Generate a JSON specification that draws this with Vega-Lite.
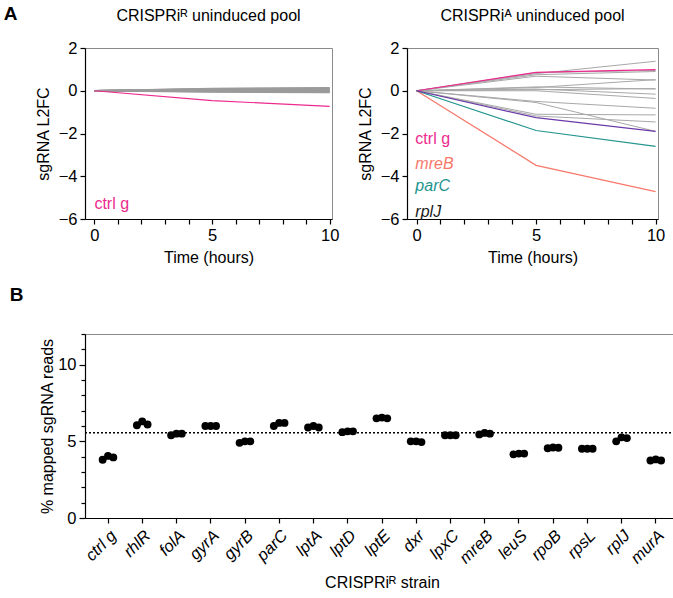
{
  "$schema": "https://vega.github.io/schema/vega-lite/v6.json",
  "padding": {"left": 3, "top": 4, "right": 2, "bottom": 4},
  "config": {
    "font": "Liberation Sans",
    "view": {"stroke": "#8a8a8a", "strokeWidth": 1},
    "axis": {"domainColor": "#000", "domainWidth": 1.2, "tickColor": "#000", "tickWidth": 1.2, "tickSize": 5, "labelFontSize": 16.5, "labelColor": "#000", "labelFont": "Liberation Sans", "titleFont": "Liberation Sans", "titleFontSize": 16, "titleFontWeight": "normal", "titleColor": "#000", "grid": false, "labelPadding": 3, "labelOverlap": false, "labelBound": false, "labelFlush": false},
    "title": {"fontSize": 16, "fontWeight": "normal", "font": "Liberation Sans", "color": "#000"}
  },
  "datasets": {
    "poolR": [
      {"gene": "ctrl g", "t": 0, "v": 0}, {"gene": "ctrl g", "t": 5, "v": -0.46}, {"gene": "ctrl g", "t": 10, "v": -0.73},
      {"gene": "rhlR", "t": 0, "v": 0}, {"gene": "rhlR", "t": 5, "v": -0.06}, {"gene": "rhlR", "t": 10, "v": -0.08},
      {"gene": "folA", "t": 0, "v": 0}, {"gene": "folA", "t": 5, "v": -0.04}, {"gene": "folA", "t": 10, "v": -0.06},
      {"gene": "gyrA", "t": 0, "v": 0}, {"gene": "gyrA", "t": 5, "v": -0.03}, {"gene": "gyrA", "t": 10, "v": -0.04},
      {"gene": "gyrB", "t": 0, "v": 0}, {"gene": "gyrB", "t": 5, "v": -0.02}, {"gene": "gyrB", "t": 10, "v": -0.02},
      {"gene": "parC", "t": 0, "v": 0}, {"gene": "parC", "t": 5, "v": -0.01}, {"gene": "parC", "t": 10, "v": 0.0},
      {"gene": "lptA", "t": 0, "v": 0}, {"gene": "lptA", "t": 5, "v": 0.0}, {"gene": "lptA", "t": 10, "v": 0.01},
      {"gene": "lptD", "t": 0, "v": 0}, {"gene": "lptD", "t": 5, "v": 0.01}, {"gene": "lptD", "t": 10, "v": 0.02},
      {"gene": "lptE", "t": 0, "v": 0}, {"gene": "lptE", "t": 5, "v": 0.02}, {"gene": "lptE", "t": 10, "v": 0.04},
      {"gene": "dxr", "t": 0, "v": 0}, {"gene": "dxr", "t": 5, "v": 0.03}, {"gene": "dxr", "t": 10, "v": 0.05},
      {"gene": "lpxC", "t": 0, "v": 0}, {"gene": "lpxC", "t": 5, "v": 0.04}, {"gene": "lpxC", "t": 10, "v": 0.06},
      {"gene": "mreB", "t": 0, "v": 0}, {"gene": "mreB", "t": 5, "v": 0.05}, {"gene": "mreB", "t": 10, "v": 0.08},
      {"gene": "leuS", "t": 0, "v": 0}, {"gene": "leuS", "t": 5, "v": 0.06}, {"gene": "leuS", "t": 10, "v": 0.09},
      {"gene": "rpoB", "t": 0, "v": 0}, {"gene": "rpoB", "t": 5, "v": 0.07}, {"gene": "rpoB", "t": 10, "v": 0.1},
      {"gene": "rpsL", "t": 0, "v": 0}, {"gene": "rpsL", "t": 5, "v": 0.08}, {"gene": "rpsL", "t": 10, "v": 0.11},
      {"gene": "rplJ", "t": 0, "v": 0}, {"gene": "rplJ", "t": 5, "v": 0.09}, {"gene": "rplJ", "t": 10, "v": 0.12},
      {"gene": "murA", "t": 0, "v": 0}, {"gene": "murA", "t": 5, "v": 0.1}, {"gene": "murA", "t": 10, "v": 0.14}
    ],
    "poolA": [
      {"gene": "rhlR", "t": 0, "v": 0}, {"gene": "rhlR", "t": 5, "v": 0.8}, {"gene": "rhlR", "t": 10, "v": 1.38},
      {"gene": "folA", "t": 0, "v": 0}, {"gene": "folA", "t": 5, "v": 0.75}, {"gene": "folA", "t": 10, "v": 0.9},
      {"gene": "gyrA", "t": 0, "v": 0}, {"gene": "gyrA", "t": 5, "v": 0.68}, {"gene": "gyrA", "t": 10, "v": 0.5},
      {"gene": "gyrB", "t": 0, "v": 0}, {"gene": "gyrB", "t": 5, "v": 0.15}, {"gene": "gyrB", "t": 10, "v": 0.52},
      {"gene": "lptA", "t": 0, "v": 0}, {"gene": "lptA", "t": 5, "v": 0.18}, {"gene": "lptA", "t": 10, "v": 0.08},
      {"gene": "lptD", "t": 0, "v": 0}, {"gene": "lptD", "t": 5, "v": 0.08}, {"gene": "lptD", "t": 10, "v": -0.16},
      {"gene": "lptE", "t": 0, "v": 0}, {"gene": "lptE", "t": 5, "v": 0.0}, {"gene": "lptE", "t": 10, "v": -0.36},
      {"gene": "dxr", "t": 0, "v": 0}, {"gene": "dxr", "t": 5, "v": -0.5}, {"gene": "dxr", "t": 10, "v": -0.82},
      {"gene": "lpxC", "t": 0, "v": 0}, {"gene": "lpxC", "t": 5, "v": -0.55}, {"gene": "lpxC", "t": 10, "v": -1.9},
      {"gene": "leuS", "t": 0, "v": 0}, {"gene": "leuS", "t": 5, "v": -1.1}, {"gene": "leuS", "t": 10, "v": -1.13},
      {"gene": "rpoB", "t": 0, "v": 0}, {"gene": "rpoB", "t": 5, "v": -1.18}, {"gene": "rpoB", "t": 10, "v": -1.46},
      {"gene": "rpsL", "t": 0, "v": 0}, {"gene": "rpsL", "t": 5, "v": 0.85}, {"gene": "rpsL", "t": 10, "v": 0.95},
      {"gene": "murA", "t": 0, "v": 0}, {"gene": "murA", "t": 5, "v": 0.05}, {"gene": "murA", "t": 10, "v": 0.1},
      {"gene": "ctrl g", "t": 0, "v": 0}, {"gene": "ctrl g", "t": 5, "v": 0.86}, {"gene": "ctrl g", "t": 10, "v": 0.99},
      {"gene": "mreB", "t": 0, "v": 0}, {"gene": "mreB", "t": 5, "v": -3.49}, {"gene": "mreB", "t": 10, "v": -4.72},
      {"gene": "parC", "t": 0, "v": 0}, {"gene": "parC", "t": 5, "v": -1.86}, {"gene": "parC", "t": 10, "v": -2.6},
      {"gene": "rplJ", "t": 0, "v": 0}, {"gene": "rplJ", "t": 5, "v": -1.26}, {"gene": "rplJ", "t": 10, "v": -1.9}
    ],
    "reads": [
      {"strain": "ctrl g", "rep": 1, "pct": 3.8}, {"strain": "ctrl g", "rep": 2, "pct": 4.05}, {"strain": "ctrl g", "rep": 3, "pct": 3.95},
      {"strain": "rhlR", "rep": 1, "pct": 6.05}, {"strain": "rhlR", "rep": 2, "pct": 6.3}, {"strain": "rhlR", "rep": 3, "pct": 6.1},
      {"strain": "folA", "rep": 1, "pct": 5.4}, {"strain": "folA", "rep": 2, "pct": 5.5}, {"strain": "folA", "rep": 3, "pct": 5.5},
      {"strain": "gyrA", "rep": 1, "pct": 6.0}, {"strain": "gyrA", "rep": 2, "pct": 6.0}, {"strain": "gyrA", "rep": 3, "pct": 6.0},
      {"strain": "gyrB", "rep": 1, "pct": 4.9}, {"strain": "gyrB", "rep": 2, "pct": 5.0}, {"strain": "gyrB", "rep": 3, "pct": 5.0},
      {"strain": "parC", "rep": 1, "pct": 6.0}, {"strain": "parC", "rep": 2, "pct": 6.2}, {"strain": "parC", "rep": 3, "pct": 6.2},
      {"strain": "lptA", "rep": 1, "pct": 5.9}, {"strain": "lptA", "rep": 2, "pct": 6.0}, {"strain": "lptA", "rep": 3, "pct": 5.9},
      {"strain": "lptD", "rep": 1, "pct": 5.6}, {"strain": "lptD", "rep": 2, "pct": 5.65}, {"strain": "lptD", "rep": 3, "pct": 5.65},
      {"strain": "lptE", "rep": 1, "pct": 6.5}, {"strain": "lptE", "rep": 2, "pct": 6.55}, {"strain": "lptE", "rep": 3, "pct": 6.5},
      {"strain": "dxr", "rep": 1, "pct": 5.0}, {"strain": "dxr", "rep": 2, "pct": 5.0}, {"strain": "dxr", "rep": 3, "pct": 4.95},
      {"strain": "lpxC", "rep": 1, "pct": 5.4}, {"strain": "lpxC", "rep": 2, "pct": 5.4}, {"strain": "lpxC", "rep": 3, "pct": 5.4},
      {"strain": "mreB", "rep": 1, "pct": 5.45}, {"strain": "mreB", "rep": 2, "pct": 5.55}, {"strain": "mreB", "rep": 3, "pct": 5.5},
      {"strain": "leuS", "rep": 1, "pct": 4.15}, {"strain": "leuS", "rep": 2, "pct": 4.2}, {"strain": "leuS", "rep": 3, "pct": 4.2},
      {"strain": "rpoB", "rep": 1, "pct": 4.55}, {"strain": "rpoB", "rep": 2, "pct": 4.6}, {"strain": "rpoB", "rep": 3, "pct": 4.58},
      {"strain": "rpsL", "rep": 1, "pct": 4.52}, {"strain": "rpsL", "rep": 2, "pct": 4.52}, {"strain": "rpsL", "rep": 3, "pct": 4.52},
      {"strain": "rplJ", "rep": 1, "pct": 5.0}, {"strain": "rplJ", "rep": 2, "pct": 5.26}, {"strain": "rplJ", "rep": 3, "pct": 5.21},
      {"strain": "murA", "rep": 1, "pct": 3.75}, {"strain": "murA", "rep": 2, "pct": 3.82}, {"strain": "murA", "rep": 3, "pct": 3.75}
    ]
  },
  "spacing": 19,
  "align": "none",
  "vconcat": [
    {
      "title": {"text": "A", "anchor": "start", "frame": "bounds", "fontSize": 19, "fontWeight": "bold", "offset": -16, "dx": -31},
      "spacing": 16,
      "hconcat": [
        {
          "width": 247, "height": 171,
          "title": {"text": "CRISPRiᴿ uninduced pool", "frame": "group", "offset": 16},
          "data": {"name": "poolR"},
          "resolve": {"axis": {"x": "independent"}},
          "layer": [
            {
              "transform": [{"filter": "datum.gene !== 'ctrl g'"}],
              "mark": {"type": "line", "color": "#9b9b9b", "strokeWidth": 1.5},
              "encoding": {
                "x": {"field": "t", "type": "quantitative", "scale": {"domain": [-0.4, 10.1], "nice": false, "zero": false},
                      "axis": {"orient": "bottom", "values": [0, 5, 10], "title": "Time (hours)", "titlePadding": 6}},
                "y": {"field": "v", "type": "quantitative", "scale": {"domain": [-6, 2], "nice": false},
                      "axis": {"values": [-6,-4,-2,0,2], "title": "sgRNA L2FC", "titlePadding": 7}},
                "detail": {"field": "gene"}
              }
            },
            {
              "transform": [{"filter": "datum.gene === 'ctrl g'"}],
              "mark": {"type": "line", "color": "#EC2A8E", "strokeWidth": 1.2},
              "encoding": {
                "x": {"field": "t", "type": "quantitative",
                      "axis": {"orient": "bottom", "values": [1,2,3,4,6,7,8,9], "labels": false, "domain": false, "title": null}},
                "y": {"field": "v", "type": "quantitative"}
              }
            },
            {
              "transform": [{"filter": "datum.gene === 'ctrl g' && datum.t === 0"}],
              "mark": {"type": "text", "align": "left", "baseline": "middle", "color": "#EC2A8E", "fontSize": 16},
              "encoding": {"x": {"datum": 0, "axis": null}, "y": {"datum": -5.3}, "text": {"field": "gene"}}
            }
          ]
        },
        {
          "width": 251, "height": 171,
          "title": {"text": "CRISPRiᴬ uninduced pool", "frame": "group", "offset": 16},
          "data": {"name": "poolA"},
          "resolve": {"axis": {"x": "independent"}},
          "layer": [
            {
              "transform": [{"filter": "indexof(['ctrl g','mreB','parC','rplJ'], datum.gene) < 0"}],
              "mark": {"type": "line", "color": "#a8a8a8", "strokeWidth": 1},
              "encoding": {
                "x": {"field": "t", "type": "quantitative", "scale": {"domain": [-0.4, 10.1], "nice": false, "zero": false},
                      "axis": {"orient": "bottom", "values": [0, 5, 10], "title": "Time (hours)", "titlePadding": 6}},
                "y": {"field": "v", "type": "quantitative", "scale": {"domain": [-6, 2], "nice": false},
                      "axis": {"values": [-6,-4,-2,0,2], "title": "sgRNA L2FC", "titlePadding": 7}},
                "detail": {"field": "gene"}
              }
            },
            {
              "transform": [{"filter": "indexof(['ctrl g','mreB','parC','rplJ'], datum.gene) >= 0"}],
              "mark": {"type": "line", "strokeWidth": 1.2},
              "encoding": {
                "x": {"field": "t", "type": "quantitative",
                      "axis": {"orient": "bottom", "values": [1,2,3,4,6,7,8,9], "labels": false, "domain": false, "title": null}},
                "y": {"field": "v", "type": "quantitative"},
                "color": {"field": "gene", "type": "nominal", "legend": null,
                          "scale": {"domain": ["ctrl g", "mreB", "parC", "rplJ"], "range": ["#EC2A8E", "#F7786B", "#23958F", "#6B3AA8"]}}
              }
            },
            {
              "transform": [{"filter": "datum.gene === 'ctrl g' && datum.t === 0"}],
              "mark": {"type": "text", "align": "left", "baseline": "middle", "color": "#EC2A8E", "fontSize": 16},
              "encoding": {"x": {"datum": -0.05, "axis": null}, "y": {"datum": -2.27}, "text": {"field": "gene"}}
            },
            {
              "transform": [{"filter": "datum.gene === 'mreB' && datum.t === 0"}],
              "mark": {"type": "text", "align": "left", "baseline": "middle", "color": "#F7786B", "fontSize": 16, "fontStyle": "italic"},
              "encoding": {"x": {"datum": -0.05, "axis": null}, "y": {"datum": -3.45}, "text": {"field": "gene"}}
            },
            {
              "transform": [{"filter": "datum.gene === 'parC' && datum.t === 0"}],
              "mark": {"type": "text", "align": "left", "baseline": "middle", "color": "#23958F", "fontSize": 16, "fontStyle": "italic"},
              "encoding": {"x": {"datum": -0.05, "axis": null}, "y": {"datum": -4.47}, "text": {"field": "gene"}}
            },
            {
              "transform": [{"filter": "datum.gene === 'rplJ' && datum.t === 0"}],
              "mark": {"type": "text", "align": "left", "baseline": "middle", "color": "#1a1a1a", "fontSize": 16, "fontStyle": "italic"},
              "encoding": {"x": {"datum": -0.05, "axis": null}, "y": {"datum": -5.65}, "text": {"field": "gene"}}
            }
          ]
        }
      ]
    },
    {
      "width": 594, "height": 184,
      "title": {"text": "B", "anchor": "start", "frame": "bounds", "fontSize": 19, "fontWeight": "bold", "offset": 28, "dx": -30},
      "data": {"name": "reads"},
      "resolve": {"axis": {"y": "independent"}},
      "layer": [
        {
          "transform": [{"aggregate": [{"op": "count", "as": "n"}]}],
          "mark": {"type": "rule", "strokeDash": [2, 2], "color": "#000", "strokeWidth": 1.3},
          "encoding": {"y": {"datum": 5.56, "type": "quantitative",
                             "axis": {"orient": "left", "values": [1,2,3,4,6,7,8,9,11,12], "labels": false, "domain": false, "title": null, "tickSize": 4}}}
        },
        {
          "mark": {"type": "circle", "color": "#000", "opacity": 1, "size": 62},
          "encoding": {
            "x": {"field": "strain", "type": "nominal", "sort": null,
                  "scale": {"paddingInner": 0, "paddingOuter": 0.175},
                  "axis": {"labelAngle": -45, "labelFontStyle": "italic", "labelFontSize": 16.5, "title": "CRISPRiᴿ strain", "titlePadding": 8, "labelPadding": 4}},
            "xOffset": {"field": "rep", "type": "nominal", "scale": {"type": "point", "range": [9, 25]}},
            "y": {"field": "pct", "type": "quantitative", "scale": {"domain": [0, 12], "nice": false},
                  "axis": {"orient": "left", "values": [0, 5, 10], "tickSize": 6, "title": "% mapped sgRNA reads", "titlePadding": 2}}
          }
        }
      ]
    }
  ]
}
